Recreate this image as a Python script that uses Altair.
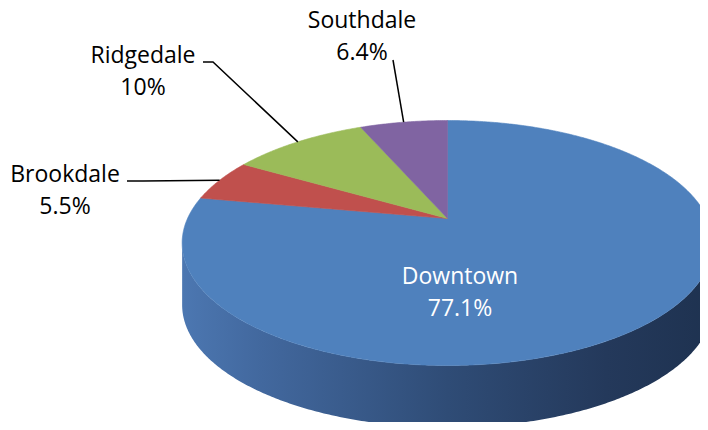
import altair as alt
import numpy as np
import pandas as pd

# ---- data ----
categories = ["Downtown", "Brookdale", "Ridgedale", "Southdale"]
values = [77.1, 5.5, 10, 6.4]
colors = ["#4F81BD", "#C0504D", "#9BBB59", "#8064A2"]
text_colors = ["#FFFFFF", "#000000", "#000000", "#000000"]

# ---- layout (screen pixels) ----
CX, CY = 447.5, 218.5      # pie apex
A, B, K = 260.0, 117.6, 0.2  # horizontal radius, vertical radius, perspective
DEPTH = 62
FONT = "Open Sans"
FSIZE = 23
LINE_H = 32
# label anchor (center x, first baseline y)
label_pos = {
    "Downtown": (460, 284),
    "Brookdale": (65, 182),
    "Ridgedale": (143, 63),
    "Southdale": (362, 28),
}
# leader line start points (before reaching the rim)
leader_pts = {
    "Brookdale": [(127, 181), (143, 181)],
    "Ridgedale": [(203, 62), (213, 62)],
    "Southdale": [(393, 60)],
}


def rim(alpha_deg):
    a = np.radians(alpha_deg)
    u, v = np.sin(a), np.cos(a)
    w = 1 + K * v
    return [float(A * u / w), float(-B * v / w)]


total = sum(values)
fracs = np.array(values) / total
ends = np.cumsum(fracs) * 360
starts = ends - fracs * 360

slice_features = []
mids = {}
for cat, s, e in zip(categories, starts, ends):
    n = max(int((e - s) / 0.5), 8)
    ring = [[0.0, 0.0]] + [rim(a) for a in np.linspace(s, e, n)] + [[0.0, 0.0]]
    slice_features.append({
        "type": "Feature",
        "properties": {"name": cat},
        "geometry": {"type": "Polygon", "coordinates": [ring]},
    })
    mids[cat] = (s + e) / 2

# side wall (visible front part)
a_r = np.degrees(np.arctan2(np.sqrt(1 - K * K), -K))
a_l = 360 - a_r
top = [rim(a) for a in np.linspace(a_r, a_l, 300)]
bottom = [[x, y + DEPTH] for x, y in reversed(top)]
side_ring = top + bottom + [top[0]]
side_feature = [{
    "type": "Feature",
    "properties": {"name": "side"},
    "geometry": {"type": "Polygon", "coordinates": [side_ring]},
}]

# leader lines
leader_features = []
for cat, pts in leader_pts.items():
    coords = [[x - CX, y - CY] for x, y in pts] + [rim(mids[cat])]
    leader_features.append({
        "type": "Feature",
        "properties": {"name": cat},
        "geometry": {"type": "LineString", "coordinates": coords},
    })

labels = pd.DataFrame({
    "name": categories,
    "text": [f"{c}\n{v:g}%" for c, v in zip(categories, values)],
    "lon": [label_pos[c][0] - CX for c in categories],
    "lat": [label_pos[c][1] - CY for c in categories],
    "tcolor": text_colors,
})

PROJ = dict(type="identity", scale=1, translate=[CX - 8, CY - 8])

side = alt.Chart(alt.Data(values=side_feature)).mark_geoshape(
    fill=alt.Gradient(
        gradient="linear", x1=0, x2=1, y1=0, y2=0,
        stops=[
            alt.GradientStop(offset=0, color="#4C77B1"),
            alt.GradientStop(offset=0.15, color="#42689E"),
            alt.GradientStop(offset=0.5, color="#2F4C76"),
            alt.GradientStop(offset=0.8, color="#24395B"),
            alt.GradientStop(offset=1, color="#1E3250"),
        ],
    ),
    strokeWidth=0,
).project(**PROJ)

cscale = alt.Scale(domain=categories, range=colors)
slices = alt.Chart(alt.Data(values=slice_features)).mark_geoshape(
    strokeWidth=0.6
).encode(
    fill=alt.Fill("properties.name:N", scale=cscale, legend=None),
    stroke=alt.Stroke("properties.name:N", scale=cscale, legend=None),
).project(**PROJ)

leaders = alt.Chart(alt.Data(values=leader_features)).mark_geoshape(
    filled=False, stroke="#000000", strokeWidth=1.5
).project(**PROJ)

text = alt.Chart(labels).mark_text(
    font=FONT, fontSize=FSIZE, lineBreak="\n", lineHeight=LINE_H,
    align="center", baseline="alphabetic",
).encode(
    longitude="lon:Q",
    latitude="lat:Q",
    text="text:N",
    color=alt.Color("tcolor:N", scale=None),
).project(**PROJ)

chart = alt.layer(side, slices, leaders, text).properties(
    width=692, height=414,
    autosize=alt.AutoSizeParams(type="none"),
    padding=0,
).configure_view(stroke=None)

chart.save("out.html", embed_options={"renderer": "svg", "actions": False})
